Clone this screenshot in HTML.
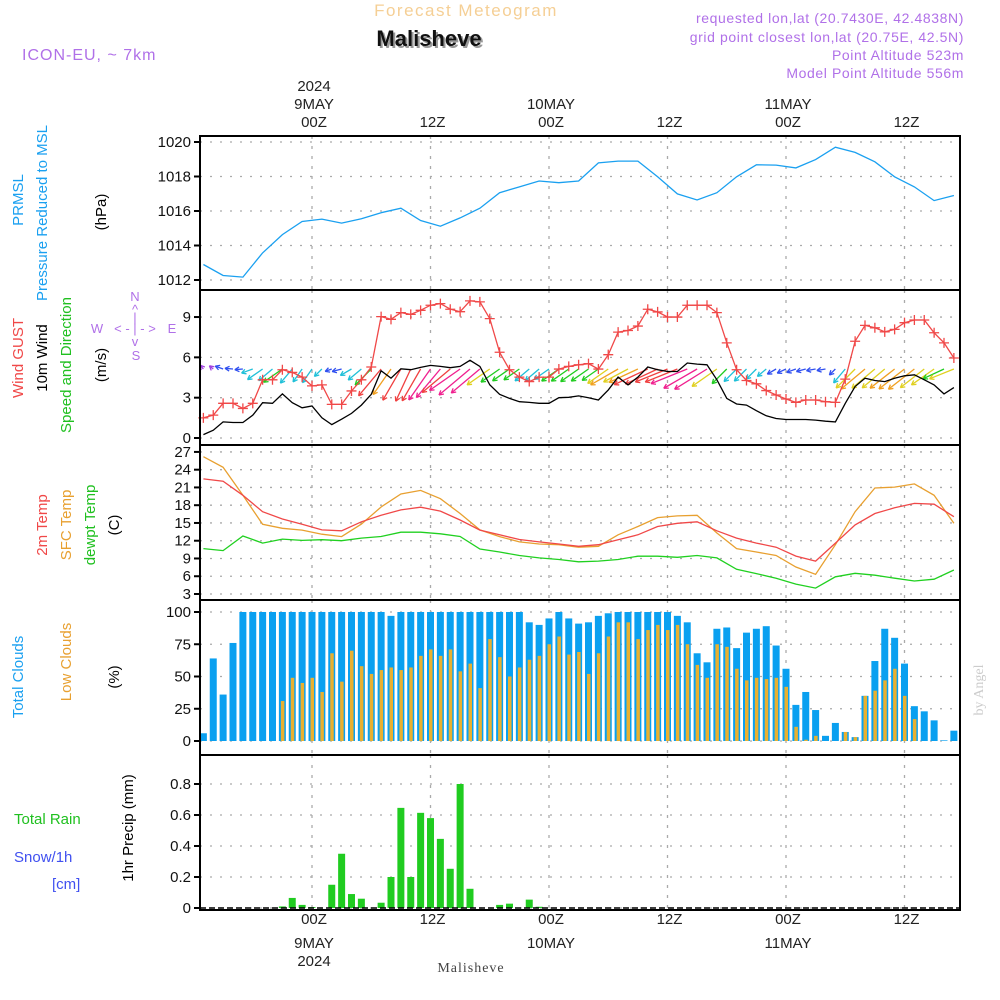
<!DOCTYPE html>
<html><head><meta charset="utf-8"><style>
body{margin:0;background:#fff;}
svg{display:block;font-family:"Liberation Sans",sans-serif;}
</style></head><body>
<svg id="chart" width="1000" height="1000" viewBox="0 0 1000 1000" xmlns="http://www.w3.org/2000/svg">
<rect x="0" y="0" width="1000" height="1000" fill="#fff"/>
<text x="466" y="16" text-anchor="middle" font-size="17" fill="#f5cf95" letter-spacing="1.5">Forecast Meteogram</text>
<text x="431" y="48" text-anchor="middle" font-size="22" font-weight="bold" fill="#999">Malisheve</text>
<text x="429" y="46" text-anchor="middle" font-size="22" font-weight="bold" fill="#111">Malisheve</text>
<text x="22" y="60" font-size="16" fill="#b070e8" letter-spacing="1">ICON-EU, ~ 7km</text>
<g font-size="14" fill="#b070e8" text-anchor="end" letter-spacing="0.6">
<text x="964" y="23">requested lon,lat (20.7430E, 42.4838N)</text>
<text x="964" y="42">grid point closest lon,lat (20.75E, 42.5N)</text>
<text x="964" y="60">Point Altitude 523m</text>
<text x="964" y="78">Model Point Altitude 556m</text>
</g>
<text transform="translate(983,690) rotate(-90)" text-anchor="middle" font-size="14" fill="#ccc" font-family="Liberation Serif,serif">by Angel</text>
<text x="471" y="972" text-anchor="middle" font-size="14" fill="#444" font-family="Liberation Serif,serif" letter-spacing="1">Malisheve</text>
<g font-size="15" text-anchor="middle">
<text transform="translate(23,200) rotate(-90)" fill="#1aa0f0">PRMSL</text>
<text transform="translate(47,213) rotate(-90)" fill="#1aa0f0">Pressure Reduced to MSL</text>
<text transform="translate(106,212) rotate(-90)" fill="#000">(hPa)</text>
<text transform="translate(23,358) rotate(-90)" fill="#f04848">Wind GUST</text>
<text transform="translate(47,358) rotate(-90)" fill="#000">10m Wind</text>
<text transform="translate(71,365) rotate(-90)" fill="#20c020">Speed and Direction</text>
<text transform="translate(106,365) rotate(-90)" fill="#000">(m/s)</text>
<text transform="translate(47,525) rotate(-90)" fill="#f04848">2m Temp</text>
<text transform="translate(71,525) rotate(-90)" fill="#e8a030">SFC Temp</text>
<text transform="translate(95,525) rotate(-90)" fill="#20c020">dewpt Temp</text>
<text transform="translate(119,525) rotate(-90)" fill="#000">(C)</text>
<text transform="translate(23,677) rotate(-90)" fill="#1aa0f0">Total Clouds</text>
<text transform="translate(71,662) rotate(-90)" fill="#e8a030">Low Clouds</text>
<text transform="translate(119,677) rotate(-90)" fill="#000">(%)</text>
<text transform="translate(133,828) rotate(-90)" fill="#000">1hr Precip (mm)</text>
</g>
<g font-size="15">
<text x="14" y="824" fill="#20c020">Total  Rain</text>
<text x="14" y="862" fill="#4050f0">Snow/1h</text>
<text x="52" y="889" fill="#4050f0">[cm]</text>
</g>
<g font-size="13" fill="#b070e8" text-anchor="middle">
<text x="135" y="301">N</text><text x="135" y="314">^</text><text x="135" y="322">|</text>
<text x="135" y="333">&lt; - | - &gt;</text><text x="97" y="333">W</text><text x="172" y="333">E</text>
<text x="135" y="346">v</text><text x="136" y="360">S</text>
</g>
<g id="layer"></g>
</svg>
<script>
const hours = [];
for (let h = -11; h <= 65; h++) hours.push(h);
const lineHours = [-11,-9,-7,-5,-3,-1,1,3,5,7,9,11,13,15,17,19,21,23,25,27,29,31,33,35,37,39,41,43,45,47,49,51,53,55,57,59,61,63,65];
const pressure = [1012.9,1012.26,1012.17,1013.57,1014.63,1015.39,1015.53,1015.3,1015.55,1015.9,1016.16,1015.45,1015.12,1015.6,1016.16,1017.06,1017.4,1017.74,1017.64,1017.74,1018.79,1018.89,1018.89,1017.98,1016.99,1016.64,1017.06,1017.98,1018.68,1018.66,1018.5,1018.98,1019.7,1019.4,1018.85,1017.98,1017.4,1016.6,1016.9];
const temp2m = [22.44,22.06,19.67,16.9,15.67,14.78,13.83,13.67,15.2,16.3,17.2,17.67,17.0,15.5,13.8,13.0,12.2,11.8,11.44,11.06,11.33,12.17,13.0,14.4,14.94,15.2,13.67,12.44,11.6,10.9,9.4,8.56,11.6,14.67,16.6,17.56,18.3,18.17,16.06];
const tempSfc = [26.2,24.4,19.67,14.78,14.1,13.8,13.1,12.7,14.8,17.7,19.9,20.5,19.1,16.6,13.83,12.7,11.8,11.44,11.33,10.9,11.06,13.0,14.4,15.9,16.2,16.3,13.3,10.67,10.1,9.5,7.56,6.33,11.33,16.9,20.9,21.06,21.6,19.67,14.94];
const dewpt = [10.67,10.33,12.8,11.6,12.28,12.06,12.17,12.0,12.44,12.72,13.44,13.44,13.17,12.72,10.6,10.1,9.5,9.1,8.83,8.44,8.56,8.83,9.39,9.39,9.2,9.5,9.1,7.17,6.44,5.67,4.67,4.0,5.9,6.5,6.17,5.67,5.2,5.5,7.06];
const gust = [1.5,1.7,2.58,2.58,2.2,2.58,4.33,4.33,5.08,4.88,4.53,3.88,3.95,2.5,2.5,3.5,4.33,5.28,9.03,8.83,9.33,9.2,9.5,9.88,10.0,9.58,9.4,10.2,10.13,8.88,6.38,5.08,4.53,4.2,4.53,4.53,5.13,5.33,5.45,5.53,5.13,6.2,7.88,8.0,8.33,9.58,9.38,9.0,9.0,9.88,9.88,9.88,9.33,7.08,5.08,4.28,4.03,3.53,3.2,2.9,2.65,2.83,2.83,2.7,2.65,4.38,7.2,8.38,8.2,7.9,8.08,8.58,8.78,8.78,7.83,7.08,5.95];
const wind10m = [0.25,0.58,1.2,1.15,1.15,1.7,2.63,2.58,3.28,2.63,2.25,2.38,1.5,1.0,1.4,1.83,2.45,3.25,5.0,4.45,5.15,5.08,5.25,5.4,5.33,5.23,5.33,5.78,5.33,3.95,3.25,2.95,2.7,2.65,2.58,2.58,3.0,3.03,3.13,3.0,2.83,3.58,4.53,3.95,4.53,5.28,5.08,4.95,4.95,5.58,5.5,5.45,4.33,2.95,2.53,2.45,2.03,1.65,1.45,1.38,1.38,1.38,1.33,1.25,1.2,2.58,3.83,4.45,4.28,4.2,4.45,4.63,4.7,4.33,3.95,3.28,3.75];
const windDir = [140,130,110,95,85,70,55,50,55,40,35,35,45,70,75,60,50,45,40,35,30,25,30,35,40,50,55,50,50,55,55,55,55,50,50,55,55,55,55,55,55,55,60,62,65,65,65,68,68,68,60,58,55,45,45,45,45,50,60,65,70,75,80,80,45,40,45,50,50,50,52,52,52,52,55,65,68];
const totalCloud = [6,64,36,76,100,100,100,100,100,100,100,100,100,100,100,100,100,100,100,97,100,100,100,100,100,100,100,100,100,100,100,100,100,92,90,95,100,95,91,92,97,99,100,100,100,100,100,100,97,92,68,61,87,88,72,84,87,89,74,56,28,38,24,4,14,7,3,35,62,87,80,60,27,23,16,0.5,8];
const lowCloud = [0,0,0,0,0,0,0,0,31,49,45,49,38,68,46,70,58,52,55,57,55,57,66,71,66,71,54,60,41,79,65,50,57,63,66,75,81,67,69,52,68,81,92,92,79,86,90,86,90,75,59,49,75,73,56,47,49,48,49,42,11,1,4,0,0,7,3,35,39,47,56,35,17,0,0,0,0];
const precip = [0,0,0,0,0,0,0,0,0.01,0.065,0.02,0.006,0,0.15,0.35,0.09,0.06,0,0.034,0.2,0.646,0.2,0.614,0.58,0.446,0.253,0.8,0.124,0,0,0.02,0.028,0,0.054,0.008,0,0,0,0,0,0,0,0,0,0,0,0,0,0,0,0,0,0,0,0,0,0,0,0,0,0,0,0,0,0,0,0,0,0,0,0,0,0,0,0,0,0];
const pTicks = [1012,1014,1016,1018,1020];
const wTicks = [0,3,6,9];
const tTicks = [3,6,9,12,15,18,21,24,27];
const cTicks = [0,25,50,75,100];
const rTicks = [0,0.2,0.4,0.6,0.8];
const timeTicks = [0,12,24,36,48,60];
const timeLabels = ['00Z','12Z','00Z','12Z','00Z','12Z'];
const dayLabels = ['9MAY','','10MAY','','11MAY',''];

const NS='http://www.w3.org/2000/svg';
const layer=document.getElementById('layer');
function mk(tag,attrs,parent){const e=document.createElementNS(NS,tag);for(const k in attrs)e.setAttribute(k,attrs[k]);(parent||layer).appendChild(e);return e;}
const L=200,R=960;
const X=h=>312+h*9.875;
const panels=[
 {name:'pressure',top:136,bot:290,Y:p=>142+(1020-p)*17.25,ticks:pTicks},
 {name:'wind',top:290,bot:445,Y:v=>438-v*13.44,ticks:wTicks},
 {name:'temperature',top:445,bot:600,Y:t=>594-(t-3)*5.92,ticks:tTicks},
 {name:'clouds',top:600,bot:755,Y:c=>741-c*1.29,ticks:cTicks},
 {name:'precip',top:755,bot:910,Y:r=>908-r*155,ticks:rTicks}
];
const P={};
panels.forEach(p=>{
 P[p.name]=p;
 p.ticks.forEach(t=>{
  const y=p.Y(t);
  const g=mk('line',{x1:L,x2:R,y1:y,y2:y,stroke:'#aaa','stroke-width':1.3,'stroke-dasharray':'2,8'});
  
  
  const tk=mk('line',{x1:L-6,x2:L,y1:y,y2:y,stroke:'#000','stroke-width':2});
  
  
  const lb=mk('text',{x:L-9,y:y+5,'text-anchor':'end','font-size':15,fill:'#111'});
  lb.textContent=String(t);
  
  
 });
 timeTicks.forEach(h=>{
  const x=X(h);
  const v=mk('line',{x1:x,x2:x,y1:p.top,y2:p.bot,stroke:'#aaa','stroke-width':1.3,'stroke-dasharray':'3,7'});
  
  
 });
});
function poly(hs,vals,Y,color,name,w){
 const pts=hs.map((h,i)=>X(h).toFixed(1)+','+Y(vals[i]).toFixed(1)).join(' ');
 const e=mk('polyline',{points:pts,fill:'none',stroke:color,'stroke-width':w||1.3});
 
 
 return e;
}
poly(lineHours,pressure,P.pressure.Y,'#1aa0f0','pressure-line');
function windColor(s){if(s<0.8)return '#a040e0';if(s<1.5)return '#3050f0';if(s<2.7)return '#20c0d8';if(s<3.5)return '#20cc20';if(s<4.4)return '#e0d020';if(s<4.8)return '#f0a020';if(s<5.3)return '#f04040';return '#f0208f';}
hours.forEach((h,i)=>{
 const s=wind10m[i];const to=(windDir[i]+180)*Math.PI/180;
 const len=Math.max(5,7*s);
 const x0=X(h),y0=369;
 const x1=x0+Math.sin(to)*len,y1=y0-Math.cos(to)*len;
 const c=windColor(s);
 const g=mk('g',{stroke:c,'stroke-width':1.3,fill:'none'});
 
 
 mk('line',{x1:x0,y1:y0,x2:x1,y2:y1},g);
 const a=Math.atan2(y0-y1,x0-x1);
 [0.5,-0.5].forEach(d=>{mk('line',{x1:x1,y1:y1,x2:x1+5*Math.cos(a+d),y2:y1+5*Math.sin(a+d)},g);});
});
poly(hours,wind10m,P.wind.Y,'#000','wind-10m-line');
poly(hours,gust,P.wind.Y,'#f04848','wind-gust-line');
hours.forEach((h,i)=>{
 const x=X(h),y=P.wind.Y(gust[i]);
 const m=mk('path',{d:`M${x-5},${y}H${x+5}M${x},${y-5}V${y+5}`,stroke:'#f04848','stroke-width':1.3});
 
 
});
poly(lineHours,dewpt,P.temperature.Y,'#20d020','dewpoint-line');
poly(lineHours,tempSfc,P.temperature.Y,'#e8a030','sfc-temp-line');
poly(lineHours,temp2m,P.temperature.Y,'#f04848','temp-2m-line');
hours.forEach((h,i)=>{
 const x=X(h),Y=P.clouds.Y;
 const b=mk('rect',{x:x-3.5,y:Y(totalCloud[i]),width:7,height:Y(0)-Y(totalCloud[i]),fill:'#0aa0f0'});
 
 
 if(lowCloud[i]>0){
  const l=mk('rect',{x:x-1.5,y:Y(lowCloud[i]),width:3.5,height:Y(0)-Y(lowCloud[i]),fill:'#e8b030'});
  
  
 }
 if(precip[i]>0){
  const Yp=P.precip.Y;
  const r=mk('rect',{x:x-3.5,y:Yp(precip[i]),width:7,height:Yp(0)-Yp(precip[i]),fill:'#20cc20'});
  
  
 }
});
const zl=mk('line',{x1:L,x2:R,y1:908,y2:908,stroke:'#000','stroke-width':1.5,'stroke-dasharray':'6,3'});


panels.forEach(p=>{
 const f=mk('rect',{x:L,y:p.top,width:R-L,height:p.bot-p.top,fill:'none',stroke:'#000','stroke-width':2});
 
 
});
timeTicks.forEach((h,i)=>{
 const x=X(h);
 const tt=mk('text',{x:x+2,y:127,'text-anchor':'middle','font-size':15,fill:'#222'});
 tt.textContent=timeLabels[i];
 
 
 const bt=mk('text',{x:x+2,y:924,'text-anchor':'middle','font-size':15,fill:'#222'});
 bt.textContent=timeLabels[i];
 
 
 if(dayLabels[i]){
  const td=mk('text',{x:x+2,y:109,'text-anchor':'middle','font-size':15,fill:'#222'});
  td.textContent=dayLabels[i];
  
  
  const bd=mk('text',{x:x+2,y:948,'text-anchor':'middle','font-size':15,fill:'#222'});
  bd.textContent=dayLabels[i];
  
  
 }
});
const y1=mk('text',{x:X(0)+2,y:91,'text-anchor':'middle','font-size':15,fill:'#222'});
y1.textContent='2024';


const y2=mk('text',{x:X(0)+2,y:966,'text-anchor':'middle','font-size':15,fill:'#222'});
y2.textContent='2024';


</script>
</body></html>
